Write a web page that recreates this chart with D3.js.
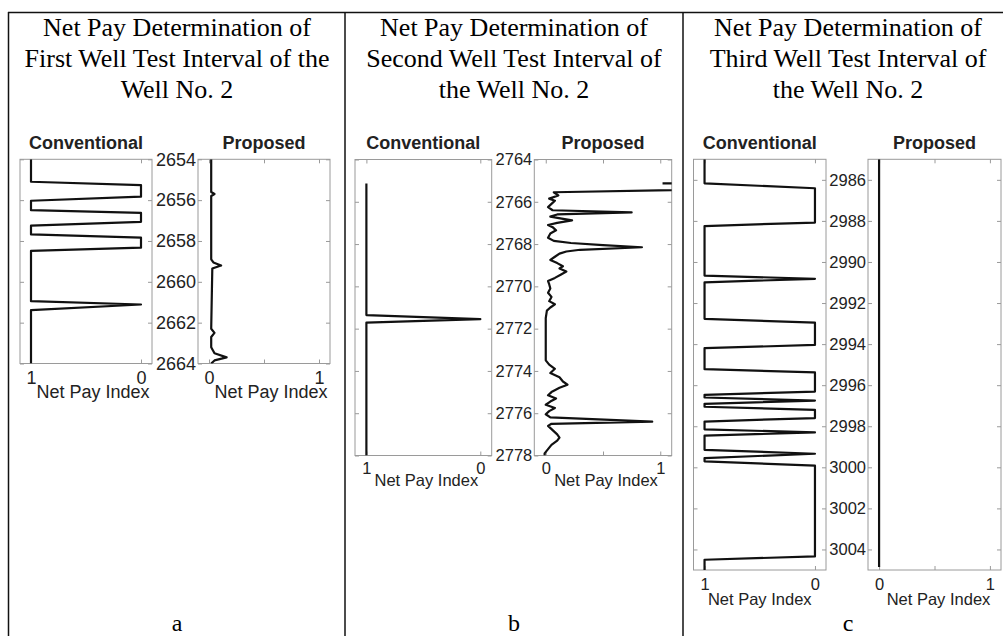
<!DOCTYPE html>
<html>
<head>
<meta charset="utf-8">
<script src="https://cdn.jsdelivr.net/npm/d3@7"></script>
<style>
  body { margin: 0; background: #fff; }
</style>
</head>
<body>
<script>
// ---- data ----
var titleA = ["Net Pay Determination of", "First Well Test Interval of the", "Well No. 2"];
var titleB = ["Net Pay Determination of", "Second Well Test Interval of", "the Well No. 2"];
var titleC = ["Net Pay Determination of", "Third Well Test Interval of", "the Well No. 2"];
var panelLetters = ["a", "b", "c"];
var trackNames = ["Conventional", "Proposed"];
var axisName = "Net Pay Index";

var depthRangeA = [2654, 2664];
var depthRangeB = [2764, 2778];
var depthRangeC = [2985, 3005];
var depthTicksA = [2654, 2656, 2658, 2660, 2662, 2664];
var depthTicksB = [2764, 2766, 2768, 2770, 2772, 2774, 2776, 2778];
var depthTicksC = [2986, 2988, 2990, 2992, 2994, 2996, 2998, 3000, 3002, 3004];

// [depth, net pay index]
var convA = [[2654,1],[2655.1,1],[2655.26,0],[2655.83,0],[2656.03,1],[2656.49,1],[2656.62,0],
  [2657.06,0],[2657.25,1],[2657.68,1],[2657.84,0],[2658.33,0],[2658.48,1],[2660.95,1],
  [2661.11,0],[2661.39,1],[2664,1]];
var propA = [[2654,0.02],[2655.6,0.02],[2655.7,0.05],[2655.8,0.02],[2658.9,0.02],[2659.05,0.04],
  [2659.2,0.11],[2659.35,0.03],[2662.3,0.02],[2662.5,0.05],[2662.7,0.02],[2663.2,0.02],
  [2663.5,0.05],[2663.7,0.16],[2663.85,0.05],[2664,0.02]];

var convB = [[2765.13,1],[2771.36,1],[2771.55,0],[2771.72,1],[2778,1]];
var propB = [[2765.13,1.02],[2765.14,2.5],[2765.3,2.5],[2765.55,0.07],[2765.7,0.11],[2765.85,0.03],
  [2765.95,0.08],[2766.1,0.05],[2766.25,0.02],[2766.4,0.06],[2766.5,0.75],[2766.6,0.1],
  [2766.7,0.04],[2766.8,0.14],[2766.88,0.23],[2767.0,0.1],[2767.1,0.02],[2767.2,0.06],
  [2767.35,0.09],[2767.5,0.04],[2767.7,0.02],[2767.85,0.07],[2767.95,0.22],[2768.05,0.5],
  [2768.15,0.84],[2768.27,0.3],[2768.35,0.18],[2768.45,0.12],[2768.6,0.08],[2768.75,0.04],
  [2768.9,0.1],[2769.05,0.15],[2769.15,0.12],[2769.3,0.18],[2769.45,0.13],[2769.6,0.08],
  [2769.75,0.02],[2769.9,0.03],[2770.1,0.04],[2770.3,0.02],[2770.5,0.05],[2770.7,0.03],
  [2770.85,0.08],[2771.0,0.04],[2771.15,0.01],[2771.5,0.0],[2772.5,0.0],[2773.5,0.0],
  [2773.7,0.03],[2773.9,0.08],[2774.1,0.04],[2774.3,0.12],[2774.5,0.15],[2774.65,0.19],
  [2774.8,0.12],[2775.0,0.05],[2775.15,0.02],[2775.3,0.09],[2775.45,0.04],[2775.6,0.0],
  [2775.75,0.08],[2775.9,0.03],[2776.05,0.0],[2776.2,0.04],[2776.4,0.93],[2776.5,0.05],
  [2776.6,0.02],[2776.8,0.06],[2777.0,0.1],[2777.15,0.12],[2777.3,0.1],[2777.5,0.05],
  [2777.7,0.02],[2777.9,-0.01],[2778,-0.01]];

var convC = [[2985,1],[2986.17,1],[2986.41,0],[2988.08,0],[2988.25,1],[2990.66,1],[2990.82,0],
  [2990.99,1],[2992.77,1],[2992.95,0],[2994.04,0],[2994.2,1],[2995.22,1],[2995.38,0],
  [2996.31,0],[2996.47,1],[2996.6,1],[2996.75,0],[2996.91,1],[2997.05,1],[2997.2,0],
  [2997.6,0],[2997.77,1],[2998.15,1],[2998.3,0],[2998.46,1],[2999.15,1],[2999.34,0],
  [2999.55,1],[2999.71,1],[2999.92,0],[3004.34,0],[3004.5,1],[3005,1]];
var propC = [[2985,0],[2990,0],[2995,0],[3000,0],[3004.85,0]];

// ---- layout (pixel boxes measured on the page) ----
var panels = [
  {title: titleA, range: depthRangeA, ticks: depthTicksA, conv: convA, prop: propA,
   convX: [20, 152], propX: [198, 330], top: 159.3, bottom: 363.5, center: 177,
   fs: 18, labDy: 20, nameDy: 34.5, nameShift: [7, 7]},
  {title: titleB, range: depthRangeB, ticks: depthTicksB, conv: convB, prop: propB,
   convX: [355, 491.7], propX: [534.3, 671.7], top: 159.5, bottom: 455.5, center: 514,
   fs: 16.5, labDy: 18.5, nameDy: 30.5, nameShift: [3, 3]},
  {title: titleC, range: depthRangeC, ticks: depthTicksC, conv: convC, prop: propC,
   convX: [693.5, 826], propX: [868, 1001], top: 159.3, bottom: 570, center: 848,
   fs: 16.5, labDy: 20, nameDy: 35, nameShift: [0, 4]}
];

var width = 1003, height = 636;
var sans = "'Liberation Sans', Arial, Helvetica, sans-serif";
var serif = "'Liberation Serif', 'Times New Roman', serif";

var svg = d3.select("body").append("svg")
    .attr("width", width)
    .attr("height", height);

svg.append("rect")
    .attr("width", width)
    .attr("height", height)
    .attr("fill", "#ffffff");

// table frame
var frame = svg.append("g").attr("stroke", "#111").attr("stroke-width", 1.5);
frame.append("line").attr("x1", 8).attr("x2", width).attr("y1", 12.5).attr("y2", 12.5);
[8.5, 345, 683].forEach(function(x) {
  frame.append("line").attr("x1", x).attr("x2", x).attr("y1", 12).attr("y2", height);
});

panels.forEach(function(p, i) {
  var g = svg.append("g");

  // column heading
  g.append("text")
      .attr("font-family", serif)
      .attr("font-size", "26px")
      .attr("fill", "#000")
      .attr("text-anchor", "middle")
    .selectAll("tspan")
      .data(p.title)
    .enter().append("tspan")
      .attr("x", p.center)
      .attr("y", function(d, k) { return 36 + k * 31; })
      .text(function(d) { return d; });

  // letter at the foot of the column
  g.append("text")
      .attr("x", p.center)
      .attr("y", 631)
      .attr("text-anchor", "middle")
      .attr("font-family", serif)
      .attr("font-size", "24px")
      .attr("fill", "#000")
      .text(panelLetters[i]);

  var y = d3.scaleLinear().domain(p.range).range([p.top, p.bottom]);
  var xConv = d3.scaleLinear().domain([1.1, -0.1]).range(p.convX);
  var xProp = d3.scaleLinear().domain([-0.1, 1.1]).range(p.propX);

  [[xConv, p.conv, p.convX, [1, 0]], [xProp, p.prop, p.propX, [0, 0.5, 1]]].forEach(function(t, j) {
    var x = t[0], data = t[1], xr = t[2];
    var clipId = "clip" + i + "_" + j;

    svg.append("clipPath").attr("id", clipId)
      .append("rect")
        .attr("x", xr[0]).attr("y", p.top)
        .attr("width", xr[1] - xr[0]).attr("height", p.bottom - p.top);

    // track name
    g.append("text")
        .attr("x", (xr[0] + xr[1]) / 2)
        .attr("y", 149)
        .attr("text-anchor", "middle")
        .attr("font-family", sans)
        .attr("font-weight", "bold")
        .attr("font-size", "18px")
        .attr("fill", "#222")
        .text(trackNames[j]);

    // depth ticks on both sides
    g.append("g")
        .attr("transform", "translate(" + xr[0] + ",0)")
        .call(d3.axisLeft(y).tickValues(p.ticks).tickSize(-4).tickSizeOuter(0).tickPadding(2)
          .tickFormat(j === 1 ? d3.format("d") : ""));
    g.append("g")
        .attr("transform", "translate(" + xr[1] + ",0)")
        .call(d3.axisRight(y).tickValues(p.ticks).tickSize(-4).tickSizeOuter(0).tickFormat(""));

    // index ticks top and bottom
    g.append("g")
        .attr("transform", "translate(0," + p.top + ")")
        .call(d3.axisTop(x).tickValues(t[3]).tickSize(-4).tickSizeOuter(0).tickFormat(""));
    g.append("g")
        .attr("transform", "translate(0," + p.bottom + ")")
        .call(d3.axisBottom(x).tickValues(t[3]).tickSize(-4).tickSizeOuter(0)
          .tickPadding(p.labDy - 12)
          .tickFormat(function(d) { return d === 0.5 ? "" : d3.format("d")(d); }));

    g.selectAll(".domain").remove();
    g.selectAll(".tick line").attr("stroke", "#9a9a9a");
    g.selectAll(".tick text")
        .attr("font-family", sans)
        .attr("font-size", p.fs + "px")
        .attr("fill", "#222");

    // box
    g.append("rect")
        .attr("x", xr[0]).attr("y", p.top)
        .attr("width", xr[1] - xr[0]).attr("height", p.bottom - p.top)
        .attr("fill", "none")
        .attr("stroke", "#9a9a9a")
        .attr("stroke-width", 1);

    // axis name
    g.append("text")
        .attr("x", (xr[0] + xr[1]) / 2 + p.nameShift[j])
        .attr("y", p.bottom + p.nameDy)
        .attr("text-anchor", "middle")
        .attr("font-family", sans)
        .attr("font-size", p.fs + "px")
        .attr("fill", "#222")
        .text(axisName);

    // curve
    var line = d3.line()
        .x(function(d) { return x(d[1]); })
        .y(function(d) { return y(d[0]); });

    g.append("path")
        .datum(data)
        .attr("clip-path", "url(#" + clipId + ")")
        .attr("fill", "none")
        .attr("stroke", "#111")
        .attr("stroke-width", 2.2)
        .attr("stroke-linejoin", "round")
        .attr("d", line);
  });
});
</script>
</body>
</html>
